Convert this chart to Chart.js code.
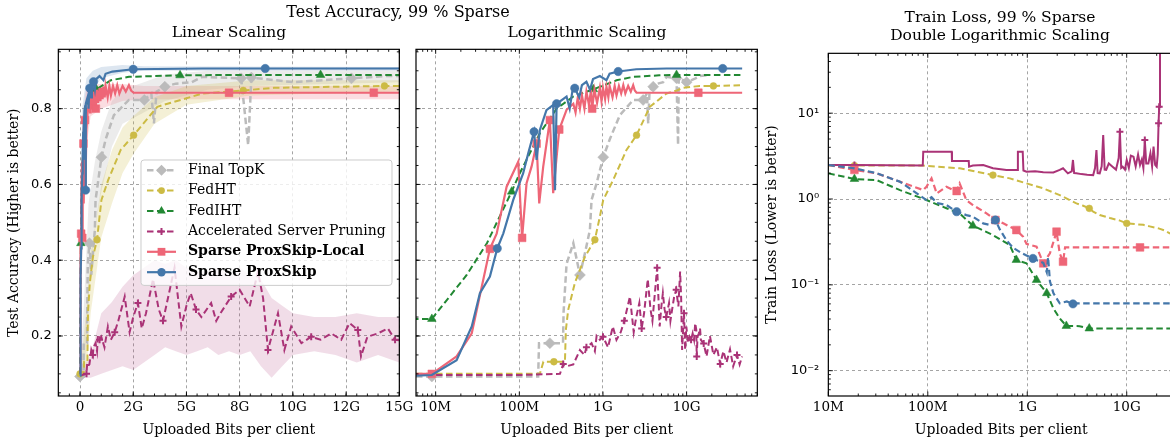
<!DOCTYPE html>
<html>
<head>
<meta charset="utf-8">
<script src="https://cdn.jsdelivr.net/npm/chart.js@4.4.1/dist/chart.umd.min.js"></script>
<style>
html, body { margin: 0; padding: 0; background: #fff; overflow: hidden; }
#fig { position: relative; width: 1170px; height: 442px; }
#fig canvas { position: absolute; left: 0; top: 0; }
.ttl { position: absolute; font: 15.5px/18px 'DejaVu Serif', serif; color: #000; white-space: nowrap; transform: translateX(-50%); text-align: center; }
</style>
</head>
<body>
<div id="fig">
  <canvas id="accLin" width="1170" height="442"></canvas>
  <canvas id="accLog" width="1170" height="442"></canvas>
  <canvas id="loss" width="1180" height="442"></canvas>
  <div class="ttl" style="left:398px;top:3px;font-size:16px">Test Accuracy, 99 % Sparse</div>
  <div class="ttl" style="left:229px;top:23px">Linear Scaling</div>
  <div class="ttl" style="left:587px;top:23px">Logarithmic Scaling</div>
  <div class="ttl" style="left:1000px;top:8px">Train Loss, 99 % Sparse<br>Double Logarithmic Scaling</div>
</div>
<script>
// x values are uploaded Mbit per client

// test accuracy (used by both the linear and the log panel)
var topkX = [0, 9, 168, 172, 232, 333, 338, 367, 442, 530, 608, 698, 730, 839, 1007, 1210, 1592, 2297, 3020, 3350, 3473, 3600, 3985, 4500, 5245, 5750, 7570, 7900, 8050, 10000, 12750, 14360, 19000];
var topkY = [0.093, 0.093, 0.093, 0.181, 0.181, 0.181, 0.263, 0.39, 0.445, 0.361, 0.418, 0.48, 0.559, 0.603, 0.672, 0.72, 0.783, 0.823, 0.823, 0.84, 0.761, 0.845, 0.858, 0.866, 0.87, 0.884, 0.88, 0.704, 0.882, 0.87, 0.88, 0.886, 0.889];

var fedhtX = [0, 9, 176, 194, 259, 351, 360, 384, 461, 608, 800, 918, 1007, 1326, 1910, 2520, 3633, 5750, 7670, 9100, 14300, 20900, 46100];
var fedhtY = [0.1, 0.1, 0.1, 0.132, 0.132, 0.132, 0.216, 0.269, 0.34, 0.409, 0.454, 0.515, 0.559, 0.612, 0.691, 0.73, 0.805, 0.84, 0.848, 0.855, 0.86, 0.86, 0.862];

var fedihtX = [0, 1, 9, 23.5, 41, 81, 101, 176, 279, 442, 767, 1452, 2297, 4700, 7570, 11300, 46100];
var fedihtY = [0.1, 0.245, 0.245, 0.361, 0.445, 0.581, 0.629, 0.735, 0.8, 0.832, 0.851, 0.875, 0.884, 0.888, 0.889, 0.889, 0.889];

var pruneX = [0, 9, 100, 306, 335, 367, 442, 530, 600, 634, 730, 800, 839, 918, 1000, 1150, 1310, 1450, 1630, 1800,
  2100, 2330, 2500, 2720, 2900, 3100, 3430, 3700, 3900, 4440, 4760, 5000, 5200, 5450, 5700, 6160, 6400, 6600, 7100, 7500,
  7970, 8360, 8600, 8830, 9300, 9600, 9920, 10400, 10860, 11300, 11800, 12270, 12660, 13050, 13200, 13500, 14000, 14460, 14800,
  16000, 17300, 19000, 20900, 23000, 25200, 27500, 30000, 33000, 36000, 40000, 43000, 46100];
var pruneY = [0.097, 0.097, 0.097, 0.1, 0.126, 0.12, 0.125, 0.163, 0.15, 0.17, 0.181, 0.16, 0.2, 0.19, 0.198, 0.17, 0.225, 0.19, 0.21, 0.24,
  0.304, 0.21, 0.25, 0.287, 0.22, 0.26, 0.35, 0.27, 0.24, 0.38, 0.225, 0.28, 0.313, 0.27, 0.25, 0.287, 0.24, 0.26, 0.304, 0.322,
  0.278, 0.37, 0.3, 0.163, 0.26, 0.163, 0.225, 0.181, 0.198, 0.19, 0.207, 0.19, 0.234, 0.216, 0.146, 0.198, 0.207, 0.22, 0.19,
  0.18, 0.146, 0.2, 0.15, 0.17, 0.126, 0.16, 0.13, 0.165, 0.12, 0.15, 0.125, 0.146];

var localX = [0, 9, 17.8, 27, 44.5, 53.6, 70.5, 97, 108, 122, 140, 161, 173, 193, 232, 254, 300, 367,
  442, 470, 500, 530, 560, 600, 634, 680, 720, 743, 790, 850, 918, 960, 1000, 1060, 1100, 1160, 1200, 1300, 1380, 1452,
  1550, 1650, 1750, 1850, 2000, 2150, 2297, 2400, 2520, 7000, 13800, 46100];
var localY = [0.1, 0.1, 0.146, 0.207, 0.43, 0.47, 0.594, 0.66, 0.459, 0.603, 0.647, 0.708, 0.55, 0.647, 0.77, 0.577, 0.745, 0.797,
  0.813, 0.79, 0.83, 0.8, 0.835, 0.8, 0.845, 0.81, 0.85, 0.8, 0.85, 0.815, 0.855, 0.82, 0.855, 0.825, 0.858, 0.83, 0.86, 0.83, 0.86, 0.835,
  0.86, 0.84, 0.862, 0.84, 0.86, 0.845, 0.862, 0.848, 0.842, 0.842, 0.842, 0.842];

var proxX = [0, 9, 17.8, 27, 33.8, 44.5, 54.5, 64.4, 84.6, 111, 127.8, 150, 161, 176, 211, 254, 267, 279,
  367, 400, 430, 460, 520, 560, 634, 700, 760, 918, 1100, 1200, 1520, 2500, 5750, 8700, 27000, 46100];
var proxY = [0.095, 0.097, 0.136, 0.225, 0.313, 0.357, 0.431, 0.471, 0.559, 0.629, 0.682, 0.739, 0.665, 0.744, 0.796, 0.81, 0.585, 0.813,
  0.832, 0.8, 0.845, 0.854, 0.83, 0.862, 0.871, 0.85, 0.878, 0.886, 0.875, 0.892, 0.898, 0.904, 0.906, 0.906, 0.906, 0.906];

// spread bands, linear panel only
var pruneBandX = [0, 500, 1000, 1500, 2000, 2500, 3000, 3500, 4000, 4500, 5000, 5500, 6000, 6500, 7000, 7500, 8000, 8500, 9000, 9500, 10000, 11000, 12000, 13000, 14000, 15000];
var pruneHi = [0.1, 0.15, 0.26, 0.29, 0.33, 0.36, 0.38, 0.4, 0.39, 0.4, 0.38, 0.37, 0.37, 0.38, 0.36, 0.38, 0.36, 0.35, 0.3, 0.28, 0.26, 0.25, 0.25, 0.26, 0.25, 0.25];
var pruneLo = [0.09, 0.09, 0.1, 0.11, 0.12, 0.11, 0.13, 0.15, 0.17, 0.16, 0.15, 0.16, 0.17, 0.15, 0.16, 0.15, 0.16, 0.12, 0.09, 0.12, 0.15, 0.16, 0.15, 0.13, 0.15, 0.13];
var fedhtBandX = [0, 300, 500, 800, 1000, 1500, 2000, 2500, 3500, 5000, 8000, 15000];
var fedhtHi = [0.1, 0.27, 0.42, 0.52, 0.6, 0.69, 0.75, 0.78, 0.83, 0.86, 0.875, 0.875];
var fedhtLo = [0.1, 0.1, 0.26, 0.38, 0.46, 0.55, 0.63, 0.68, 0.76, 0.81, 0.835, 0.845];
var topkBandX = [0, 200, 400, 700, 1000, 1500, 2000, 3000, 4000, 6000, 8000, 15000];
var topkHi = [0.1, 0.3, 0.55, 0.66, 0.74, 0.82, 0.85, 0.87, 0.89, 0.9, 0.9, 0.9];
var topkLo = [0.09, 0.09, 0.3, 0.48, 0.58, 0.7, 0.76, 0.79, 0.82, 0.85, 0.86, 0.87];
var localBandX = [0, 100, 300, 500, 1000, 2000, 3000, 15000];
var localHi = [0.1, 0.75, 0.86, 0.865, 0.865, 0.865, 0.86, 0.86];
var localLo = [0.1, 0.4, 0.7, 0.78, 0.8, 0.82, 0.825, 0.825];
var proxBandX = [0, 100, 300, 600, 1000, 2000, 3000, 15000];
var proxHi = [0.1, 0.8, 0.88, 0.9, 0.91, 0.915, 0.912, 0.91];
var proxLo = [0.1, 0.6, 0.8, 0.85, 0.88, 0.895, 0.9, 0.9];

// train loss
var lossFedhtX = [10, 18.3, 90, 209, 309, 452, 667, 982, 1450, 2120, 3120, 3600, 4200, 4600, 5350, 6790, 8540, 10000, 12000, 14700, 17000, 20900, 24000, 27100, 46100];
var lossFedhtY = [2.45, 2.45, 2.45, 2.28, 2.08, 1.9, 1.74, 1.52, 1.33, 1.11, 0.89, 0.84, 0.778, 0.712, 0.651, 0.6, 0.56, 0.521, 0.51, 0.5, 0.48, 0.455, 0.43, 0.398, 0.33];
var lossFedihtX = [10, 18.3, 30.6, 52.6, 97, 154, 209, 284, 452, 667, 777, 982, 1240, 1570, 1830, 2120, 2470, 3360, 4200, 46100];
var lossFedihtY = [1.99, 1.71, 1.66, 1.27, 0.973, 0.78, 0.68, 0.489, 0.38, 0.291, 0.195, 0.178, 0.114, 0.08, 0.0532, 0.0407, 0.0332, 0.033, 0.031, 0.031];
var lossPruneX = [10, 18.3, 89, 90, 174, 175, 258, 260, 284, 361, 452, 618, 790, 805, 900, 915, 982, 1200, 1450, 1830,
  2120, 2290, 2560, 2800, 2880, 2960, 3120, 3500, 4000, 4600, 4800, 4960, 5100, 5350, 5600, 5800, 6000, 6220, 6600, 7200,
  7800, 8300, 8540, 8800, 9100, 9600, 10000, 10500, 11000, 11700, 12300, 13000, 13600, 14200, 14700, 15200, 15700, 16500, 17300, 18000,
  18600, 19300, 20000, 20500, 20900, 21200, 21600, 22000];
var lossPruneY = [2.49, 2.49, 2.45, 3.56, 3.56, 2.77, 2.77, 2.38, 2.45, 2.49, 2.28, 2.18, 2.18, 3.56, 3.56, 2.15, 2.08, 2.1, 2.05, 2.04,
  2.18, 2.28, 1.99, 2.1, 2.85, 2.0, 1.99, 1.95, 1.92, 1.9, 2.3, 3.72, 2.0, 1.99, 2.4, 5.57, 2.2, 2.18, 2.6, 2.38,
  2.2, 3.0, 6.09, 2.3, 2.38, 2.2, 2.85, 2.3, 3.2, 3.11, 2.4, 3.3, 2.49, 2.9, 2.3, 4.87, 2.6, 2.6, 3.4, 2.4,
  4.07, 2.5, 2.38, 3.3, 7.62, 11.9, 60, 80];
var lossLocalX = [10, 18.3, 30.6, 52.6, 90, 97, 109, 123, 154, 174, 195, 209, 244, 284, 389, 478, 573, 777, 908, 982, 1240, 1450, 1690, 1970, 2120, 2290, 2400, 13600, 46100];
var lossLocalY = [2.49, 2.18, 1.99, 1.59, 1.27, 1.39, 1.74, 1.16, 1.39, 1.3, 1.24, 1.52, 0.973, 0.851, 0.681, 0.569, 0.521, 0.435, 0.364, 0.3, 0.278, 0.178, 0.233, 0.416, 0.233, 0.186, 0.273, 0.273, 0.273];
var lossProxX = [10, 18.3, 30.6, 52.6, 97, 109, 123, 154, 195, 244, 284, 361, 420, 478, 531, 618, 720, 850, 982, 1140, 1300, 1450, 1570, 1620, 1690, 1830, 2120, 2500, 2880, 3120, 3600, 46100];
var lossProxY = [2.49, 2.28, 2.0, 1.59, 0.973, 1.05, 0.9, 0.85, 0.712, 0.65, 0.623, 0.52, 0.5, 0.569, 0.44, 0.33, 0.27, 0.24, 0.22, 0.203, 0.19, 0.18, 0.14, 0.21, 0.11, 0.08, 0.061, 0.064, 0.06, 0.0607, 0.0607, 0.0607];

// ticks
var linTicks = [0, 2500, 5000, 7500, 10000, 12500, 15000];
var linLabels = ['0', '2G', '5G', '8G', '10G', '12G', '15G'];
var logTicks = [10, 100, 1000, 10000];
var logLabels = ['10M', '100M', '1G', '10G'];
var accTicks = [0.2, 0.4, 0.6, 0.8];
var accLabels = ['0.2', '0.4', '0.6', '0.8'];
var lossTicks = [0.01, 0.1, 1, 10];
var lossLabels = ['10\u207B\u00B2', '10\u207B\u00B9', '10\u2070', '10\u00B9'];

var SERIF = "'DejaVu Serif', serif";
var SANS = "'DejaVu Sans', sans-serif";
var DASH = [6.5, 3.5];
Chart.defaults.font.family = SERIF;
Chart.defaults.color = '#000';

var style = {
  topk:   { label: 'Final TopK', color: '#BBBBBB', dash: DASH, width: 2.5, point: 'rectRot', r: 5.5, order: 5 },
  fedht:  { label: 'FedHT', color: '#CCBB44', dash: DASH, width: 2, point: 'circle', r: 3.4, order: 4 },
  fediht: { label: 'FedIHT', color: '#228833', dash: DASH, width: 2, point: 'triangle', r: 5, order: 3 },
  prune:  { label: 'Accelerated Server Pruning', color: '#AA3377', dash: DASH, width: 2, point: 'cross', r: 3.5, order: 2 },
  local:  { label: 'Sparse ProxSkip-Local', color: '#EE6677', dash: [], width: 2.2, point: 'rect', r: 5.5, order: 1, bold: true },
  prox:   { label: 'Sparse ProxSkip', color: '#4477AA', dash: [], width: 2.2, point: 'circle', r: 4.2, order: 0, bold: true }
};

function series(key, xs, ys, marks, over) {
  var s = Object.assign({}, style[key], over || {});
  return {
    label: s.label,
    data: xs.map(function (x, i) { return { x: x, y: ys[i] }; }),
    borderColor: s.color, backgroundColor: s.color, borderWidth: s.width, borderDash: s.dash,
    pointStyle: s.point, pointBackgroundColor: s.color, pointBorderColor: s.color,
    pointBorderWidth: s.point === 'cross' ? 2 : 0.5,
    pointRadius: function (c) { return marks.indexOf(c.dataIndex) >= 0 ? s.r : 0; },
    pointHoverRadius: 0, tension: 0, fill: false, order: s.order
  };
}

function band(color, xs, hi, lo) {
  var pts = function (ys) { return xs.map(function (x, i) { return { x: x, y: ys[i] }; }); };
  return [
    { data: pts(hi), fill: '+1', backgroundColor: color, borderWidth: 0, pointRadius: 0, tension: 0, order: 20 },
    { data: pts(lo), fill: false, backgroundColor: color, borderWidth: 0, pointRadius: 0, tension: 0, order: 20 }
  ];
}

function drawMark(ctx, kind, x, y, r) {
  ctx.beginPath();
  if (kind === 'circle') ctx.arc(x, y, r, 0, Math.PI * 2);
  else if (kind === 'rect') { var h = r * Math.SQRT1_2; ctx.rect(x - h, y - h, 2 * h, 2 * h); }
  else if (kind === 'rectRot') { ctx.moveTo(x, y - r); ctx.lineTo(x + r, y); ctx.lineTo(x, y + r); ctx.lineTo(x - r, y); ctx.closePath(); }
  else if (kind === 'triangle') {
    for (var k = 0; k < 3; k++) {
      var a = -Math.PI / 2 + k * 2 * Math.PI / 3;
      if (k === 0) ctx.moveTo(x + r * Math.cos(a), y + r * Math.sin(a)); else ctx.lineTo(x + r * Math.cos(a), y + r * Math.sin(a));
    }
    ctx.closePath();
  } else if (kind === 'cross') {
    ctx.moveTo(x - r, y); ctx.lineTo(x + r, y); ctx.moveTo(x, y - r); ctx.lineTo(x, y + r);
    ctx.lineWidth = 2; ctx.stroke(); return;
  }
  ctx.fill();
}

// minor tick helpers
function steps(from, to, step) { var out = []; for (var v = from; v <= to + 1e-9; v += step) out.push(v); return out; }
function logMinor(lo, hi) {
  var out = [];
  for (var d = Math.pow(10, Math.floor(Math.log10(lo))); d <= hi; d *= 10)
    for (var k = 2; k <= 9; k++) if (k * d >= lo && k * d <= hi) out.push(k * d);
  return out;
}

// box, inward ticks on all four sides
function makeFrame(minorX, minorY) {
  return {
    id: 'frame',
    afterDatasetsDraw: function (chart) {
      var ctx = chart.ctx, a = chart.chartArea, sc = chart.scales;
      ctx.save();
      ctx.strokeStyle = '#000';
      ctx.lineWidth = 0.9;
      ctx.beginPath();
      function put(axis, v, len) {
        var p = sc[axis].getPixelForValue(v);
        if (axis === 'x') {
          if (p < a.left - 0.5 || p > a.right + 0.5) return;
          ctx.moveTo(p, a.bottom); ctx.lineTo(p, a.bottom - len);
          ctx.moveTo(p, a.top); ctx.lineTo(p, a.top + len);
        } else {
          if (p < a.top - 0.5 || p > a.bottom + 0.5) return;
          ctx.moveTo(a.left, p); ctx.lineTo(a.left + len, p);
          ctx.moveTo(a.right, p); ctx.lineTo(a.right - len, p);
        }
      }
      sc.x.ticks.forEach(function (t) { put('x', t.value, 4.5); });
      sc.y.ticks.forEach(function (t) { put('y', t.value, 4.5); });
      minorX.forEach(function (v) { put('x', v, 2.5); });
      minorY.forEach(function (v) { put('y', v, 2.5); });
      ctx.stroke();
      ctx.lineWidth = 1.2;
      ctx.strokeRect(a.left, a.top, a.right - a.left, a.bottom - a.top);
      ctx.restore();
    }
  };
}

function makeLegend(keys, fx, fy) {
  return {
    id: 'legendBox',
    afterDatasetsDraw: function (chart) {
      var ctx = chart.ctx, a = chart.chartArea;
      var x0 = a.left + fx * (a.right - a.left), y0 = a.top + fy * (a.bottom - a.top);
      var rowH = 20.4, w = 251, h = keys.length * rowH + 3;
      ctx.save();
      ctx.beginPath();
      ctx.roundRect(x0, y0, w, h, 3);
      ctx.fillStyle = 'rgba(255,255,255,0.8)';
      ctx.fill();
      ctx.strokeStyle = '#cccccc';
      ctx.lineWidth = 1;
      ctx.stroke();
      keys.forEach(function (k, i) {
        var s = style[k], cy = y0 + 10.2 + i * rowH;
        ctx.strokeStyle = s.color; ctx.lineWidth = s.width; ctx.setLineDash(s.dash);
        ctx.beginPath(); ctx.moveTo(x0 + 6, cy); ctx.lineTo(x0 + 35, cy); ctx.stroke();
        ctx.setLineDash([]);
        ctx.fillStyle = s.color;
        drawMark(ctx, s.point, x0 + 20.5, cy, s.r);
        ctx.fillStyle = '#000';
        ctx.font = (s.bold ? 'bold ' : '') + '14px ' + SERIF;
        ctx.textBaseline = 'middle';
        ctx.fillText(s.label, x0 + 47, cy);
      });
      ctx.restore();
    }
  };
}

function gridOpts() { return { color: 'rgba(0,0,0,0.45)', lineWidth: 0.8, drawTicks: false }; }

function xAxis(type, min, max, vals, labels) {
  return {
    type: type, min: min, max: max,
    afterBuildTicks: function (s) { s.ticks = vals.map(function (v) { return { value: v }; }); },
    afterFit: function (s) { s.height = 46; },
    ticks: { callback: function (v, i) { return labels[i]; }, padding: 3.2, autoSkip: false, maxRotation: 0, font: { family: SERIF, size: 13.5 } },
    grid: gridOpts(), border: { display: false, dash: [3, 3] },
    title: { display: true, text: 'Uploaded Bits per client', font: { family: SERIF, size: 14 }, padding: { top: 0, bottom: 3.6 } }
  };
}

function yAxis(type, min, max, vals, labels, width, title, pad, titlePad) {
  return {
    type: type, min: min, max: max,
    afterBuildTicks: function (s) { s.ticks = vals.map(function (v) { return { value: v }; }); },
    afterFit: function (s) { s.width = width; },
    ticks: { display: !!labels, callback: function (v, i) { return labels ? labels[i] : ''; }, padding: pad, font: { family: SANS, size: 13 } },
    grid: gridOpts(), border: { display: false, dash: [3, 3] },
    title: { display: !!title, text: title || '', font: { family: SERIF, size: 14 }, padding: { top: titlePad || 0, bottom: 0 } }
  };
}

function panel(id, padding, xCfg, yCfg, datasets, plugins) {
  return new Chart(document.getElementById(id), {
    type: 'line',
    data: { datasets: datasets },
    options: {
      responsive: false, animation: false, events: [],
      layout: { padding: padding },
      plugins: { legend: { display: false }, tooltip: { enabled: false } },
      scales: { x: xCfg, y: yCfg }
    },
    plugins: plugins
  });
}

// Linear Scaling
panel('accLin', { left: 0, right: 770.67, top: 49.33, bottom: 0 },
  xAxis('linear', -1018, 15000, linTicks, linLabels),
  yAxis('linear', 0.0416, 0.9566, accTicks, accLabels, 58.33, 'Test Accuracy (Higher is better)', 6.6, 5.6),
  [].concat(
    band('rgba(170,51,119,0.17)', pruneBandX, pruneHi, pruneLo),
    band('rgba(204,187,68,0.22)', fedhtBandX, fedhtHi, fedhtLo),
    band('rgba(187,187,187,0.28)', topkBandX, topkHi, topkLo),
    band('rgba(238,102,119,0.22)', localBandX, localHi, localLo),
    band('rgba(68,119,170,0.18)', proxBandX, proxHi, proxLo),
    [
      series('prox', proxX, proxY, [16, 21, 24, 31, 33]),
      series('local', localX, localY, [5, 8, 11, 14, 27, 49, 50]),
      series('prune', pruneX, pruneY, [3, 8, 13, 18, 23, 28, 33, 38, 43, 48, 53, 58]),
      series('fediht', fedihtX, fedihtY, [4, 10, 13, 15]),
      series('fedht', fedhtX, fedhtY, [0, 10, 15, 18, 20]),
      series('topk', topkX, topkY, [0, 8, 14, 18, 22, 26, 28, 30])
    ]),
  [makeFrame(steps(-1000, 15000, 500), steps(0.05, 0.95, 0.05)),
   makeLegend(['topk', 'fedht', 'fediht', 'prune', 'local', 'prox'], 0.2424, 0.3192)]);

// Logarithmic Scaling
panel('accLog', { left: 416, right: 412.67, top: 49.33, bottom: 0 },
  xAxis('logarithmic', 5.82, 70000, logTicks, logLabels),
  yAxis('linear', 0.0416, 0.9566, accTicks, null, 0, null, 6, 0),
  [
    series('prox', proxX, proxY, [6, 11, 17, 21, 30, 34]),
    series('local', localX, localY, [1, 4, 8, 11, 14, 16, 27, 50]),
    series('prune', pruneX, pruneY, [4, 9, 14, 19, 24, 29, 34, 39, 44, 49, 54, 59, 64, 69]),
    series('fediht', fedihtX, fedihtY, [2, 5, 10, 14]),
    series('fedht', fedhtX, fedhtY, [4, 10, 15, 21]),
    series('topk', topkX, topkY, [1, 4, 9, 14, 18, 22, 26, 29])
  ],
  [makeFrame(logMinor(5.82, 70000), steps(0.05, 0.95, 0.05))]);

// Train loss, double logarithmic
panel('loss', { left: 760, right: 6, top: 53.33, bottom: 0 },
  xAxis('logarithmic', 10, 29870, logTicks, logLabels),
  yAxis('logarithmic', 0.00507, 49.8, lossTicks, lossLabels, 68.33, 'Train Loss (Lower is better)', 9, 3.6),
  [
    series('prox', lossProxX, lossProxY, [8, 13, 19, 28], { dash: DASH }),
    series('local', lossLocalX, lossLocalY, [1, 10, 15, 17, 21, 23, 25, 27], { dash: DASH }),
    series('prune', lossPruneX, lossPruneY, [1, 42, 55, 64, 65], { dash: [] }),
    series('fediht', lossFedihtX, lossFedihtY, [1, 7, 10, 12, 13, 16, 18]),
    series('fedht', lossFedhtX, lossFedhtY, [1, 5, 12, 17])
  ],
  [makeFrame(logMinor(10, 29870), logMinor(0.00507, 49.8))]);
</script>
</body>
</html>
